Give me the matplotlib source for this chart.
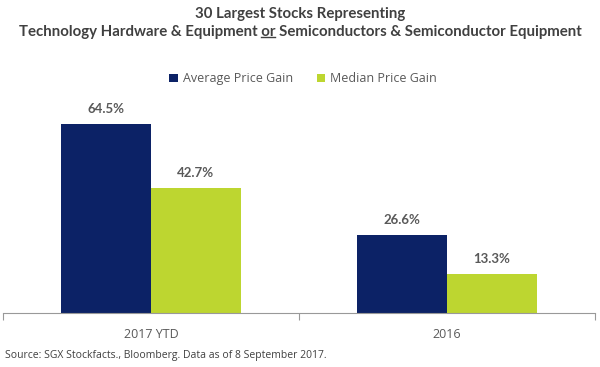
import numpy as np
import matplotlib.pyplot as plt

categories = ["2017 YTD", "2016"]
avg_gain = [64.5, 26.6]
median_gain = [42.7, 13.3]
series_names = ["Average Price Gain", "Median Price Gain"]

navy = "#0c2266"
lime = "#bdd630"
gray = "#595959"

fig = plt.figure(figsize=(6.0, 3.67), dpi=100)
ax = fig.add_axes([0.005, 0.147, 0.987, 0.575])

x = np.arange(len(categories))
w = 0.303
b1 = ax.bar(x - w / 2, avg_gain, w, color=navy, label=series_names[0])
b2 = ax.bar(x + w / 2, median_gain, w, color=lime, label=series_names[1])

for bars, vals in [(b1, avg_gain), (b2, median_gain)]:
    for r, v in zip(bars, vals):
        ax.text(r.get_x() + r.get_width() / 2, v + 3.2, f"{v:.1f}%",
                ha="center", va="bottom", fontsize=9.5, fontweight="bold",
                color=gray, family="Lato")

ax.set_xlim(-0.5, 1.5)
ax.set_ylim(0, 72)
ax.set_yticks([])
ax.set_xticks(x)
ax.set_xticklabels(categories, fontsize=9, color=gray, family="Open Sans")
ax.tick_params(axis="x", which="major", length=0, pad=11)
ax.set_xticks([-0.5, 0.5, 1.5], minor=True)
ax.tick_params(axis="x", which="minor", length=5, color="#999999", width=0.8)
for s in ["top", "left", "right"]:
    ax.spines[s].set_visible(False)
ax.spines["bottom"].set_color("#999999")
ax.spines["bottom"].set_linewidth(0.8)

leg = fig.legend(handles=[b1, b2], loc="center", bbox_to_anchor=(0.505, 0.785),
                 ncol=2, frameon=False, handlelength=0.7, handleheight=0.7,
                 handletextpad=0.4, columnspacing=1.9,
                 prop={"family": "Open Sans", "size": 9})
for t in leg.get_texts():
    t.set_color(gray)

# title, second line has "or" underlined
title_kw = dict(fontsize=10.8, fontweight="bold", color="#404040", family="Lato")
fig.text(0.5, 0.962, "30 Largest Stocks Representing", ha="center", va="center", **title_kw)
line2 = "Technology Hardware & Equipment or Semiconductors & Semiconductor Equipment"
t2 = fig.text(0.5, 0.913, line2, ha="center", va="center", **title_kw)
renderer = fig.canvas.get_renderer()
full = t2.get_window_extent(renderer)
pre = fig.text(0, 0, "Technology Hardware & Equipment ", **title_kw)
pre_w = pre.get_window_extent(renderer).width
pre.remove()
orw = fig.text(0, 0, "or", **title_kw)
or_w = orw.get_window_extent(renderer).width
orw.remove()
x0 = (full.x0 + pre_w) / fig.bbox.width
x1 = (full.x0 + pre_w + or_w) / fig.bbox.width
yl = (full.y0 + 1.5) / fig.bbox.height
fig.add_artist(plt.Line2D([x0, x1], [yl, yl], color="#404040", linewidth=1.0,
                          transform=fig.transFigure))

fig.text(0.008, 0.032, "Source: SGX Stockfacts., Bloomberg. Data as of 8 September 2017.",
         fontsize=7.5, color="#404040", family="Open Sans", va="center")

fig.savefig("out.png", dpi=100)
